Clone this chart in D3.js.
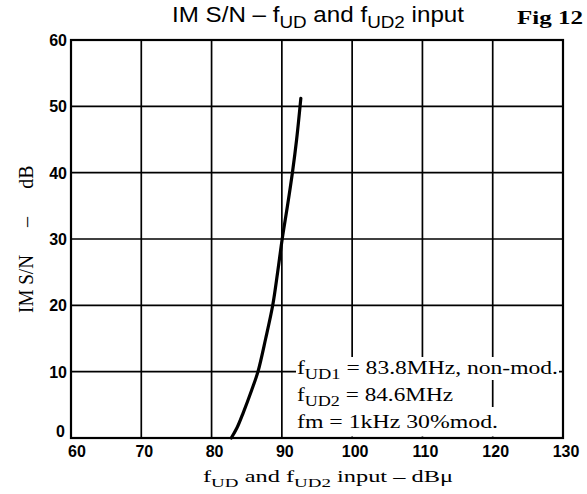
<!DOCTYPE html>
<html><head><meta charset="utf-8">
<script src="https://cdn.jsdelivr.net/npm/d3@7"></script>
<style>body{margin:0;background:#fff}</style>
</head><body>
<svg id="c" width="587" height="494"></svg>
<script>
const xTicks = [60,70,80,90,100,110,120,130];
const yTicks = [0,10,20,30,40,50,60];
const curveX = [82.8,83.6,84.5,85.7,86.6,87.7,88.7,89.4,90.05,90.8,91.5,92.1,92.7];
const curveY = [0,1.5,3.8,7.2,10,15,20,25,30,35,40,45,51.2];
const notes = [
  [["f",""],["UD1","sub"],[" = 83.8MHz, non-mod.",""]],
  [["f",""],["UD2","sub"],[" = 84.6MHz",""]],
  [["fm = 1kHz 30%mod.",""]]
];

const svg = d3.select("#c");
const x = d3.scaleLinear().domain([60,130]).range([71,563]);
const y = d3.scaleLinear().domain([0,60]).range([438,40]);

// grid
svg.append("g").selectAll("line").data(xTicks).join("line")
  .attr("x1",d=>x(d)).attr("x2",d=>x(d)).attr("y1",y(0)).attr("y2",y(60))
  .attr("stroke","#000").attr("stroke-width",1.7);
svg.append("g").selectAll("line").data(yTicks).join("line")
  .attr("x1",x(60)).attr("x2",x(130)).attr("y1",d=>y(d)).attr("y2",d=>y(d))
  .attr("stroke","#000").attr("stroke-width",1.7);

function rich(g, parts, px, py, size, family, weight, width){
  const t = g.append("text").attr("x",px).attr("y",py).attr("font-family",family)
    .attr("font-size",size).attr("font-weight",weight||"normal").attr("fill","#000");
  let shifted=false;
  parts.forEach(([s,k])=>{
    const ts = t.append("tspan").text(s);
    if(k==="sub"){ ts.attr("font-size",size*0.78).attr("dy",size*0.28); shifted=true; }
    else if(shifted){ ts.attr("dy",-size*0.28); shifted=false; }
  });
  if(width){ t.attr("textLength",width).attr("lengthAdjust","spacingAndGlyphs"); }
  return t;
}

// annotation with white backing
const ann = svg.append("g");
const annY = [374,401,428];
const annW = [261,156,201];
const bgTop = [357,380,407];
const bgBot = [380,407,436.5];
annY.forEach((b,i)=>{
  ann.append("rect").attr("x",296).attr("y",bgTop[i]).attr("width",annW[i]+(i===0?2:4))
    .attr("height",bgBot[i]-bgTop[i]).attr("fill","#ffffff").attr("stroke","none");
});
notes.forEach((p,i)=>{
  rich(ann,p,297,annY[i],19,"Liberation Serif, serif","normal",annW[i]);
});

// frame
svg.append("rect").attr("x",x(60)).attr("y",y(60)).attr("width",x(130)-x(60)).attr("height",y(0)-y(60))
  .attr("fill","none").attr("stroke","#000").attr("stroke-width",2.2);

// curve
const line = d3.line().x(d=>x(d[0])).y(d=>y(d[1])).curve(d3.curveCatmullRom);
svg.append("path").datum(curveX.map((v,i)=>[v,curveY[i]])).attr("d",line)
  .attr("fill","none").attr("stroke","#000").attr("stroke-width",3.2).attr("stroke-linecap","round");

// x tick labels
svg.append("g").selectAll("text").data(xTicks).join("text")
  .attr("x",d=>x(d)+(d===60?6:3)).attr("y",457)
  .attr("text-anchor","middle").attr("font-family","Liberation Sans, Arial, sans-serif")
  .attr("font-weight","bold").attr("font-size",16).text(d=>d);
// y tick labels
svg.append("g").selectAll("text").data(yTicks).join("text")
  .attr("x",d=>d===0?65:67).attr("y",d=>d===0?y(d)-1:y(d)+6)
  .attr("text-anchor","end").attr("font-family","Liberation Sans, Arial, sans-serif")
  .attr("font-weight","bold").attr("font-size",16).text(d=>d);

// title
rich(svg,[["IM S/N – f",""],["UD","sub"],[" and f",""],["UD2","sub"],[" input",""]],172,22,22,"Liberation Sans, Arial, sans-serif","normal",292);
svg.append("text").attr("x",517).attr("y",24).attr("font-family","Liberation Serif, serif")
  .attr("font-weight","bold").attr("font-size",18).attr("textLength",66).attr("lengthAdjust","spacingAndGlyphs").text("Fig 12");

// x axis label
rich(svg,[["f",""],["UD","sub"],[" and f",""],["UD2","sub"],[" input – dBμ",""]],203,482,17,"Liberation Serif, serif","normal",250);

// y axis label
const yl = svg.append("g").attr("font-family","Liberation Serif, serif").attr("font-size",20).attr("text-anchor","middle");
yl.append("text").attr("transform","translate(33,284) rotate(-90)").attr("textLength",58).attr("lengthAdjust","spacingAndGlyphs").text("IM S/N");
yl.append("text").attr("transform","translate(33,222) rotate(-90)").text("–");
yl.append("text").attr("transform","translate(33,177) rotate(-90)").text("dB");
</script>
</body></html>
